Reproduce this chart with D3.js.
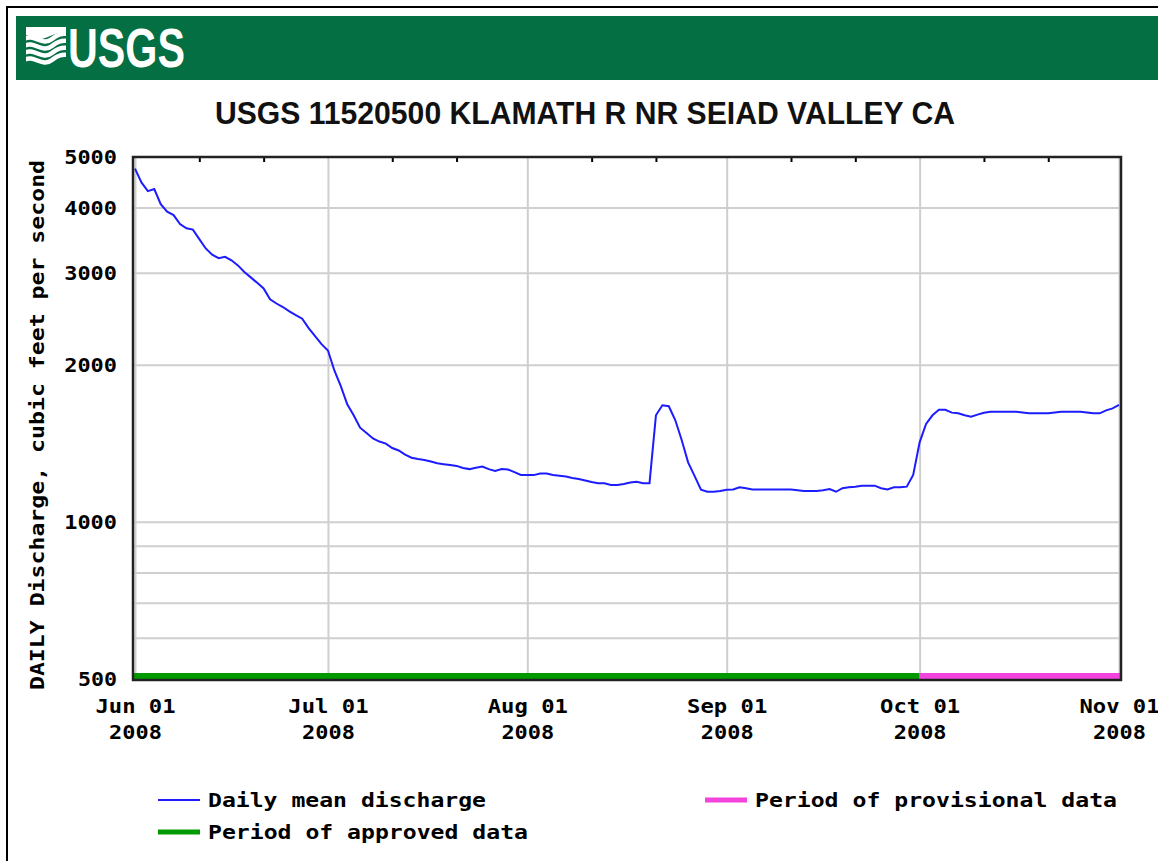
<!DOCTYPE html>
<html>
<head>
<meta charset="utf-8">
<script src="https://cdn.jsdelivr.net/npm/d3@7"></script>
<style>
  body { margin: 0; background: #fff; }
  svg { display: block; }
</style>
</head>
<body>
<svg id="chart" width="1158" height="861"></svg>
<script>
// daily mean discharge, cfs, one value per day starting Jun 01 2008
var startDate = new Date(2008, 5, 1);
var discharge = [
  4750, 4470, 4300, 4340, 4060, 3930, 3870, 3720, 3650, 3630,
  3480, 3340, 3250, 3200, 3220, 3170, 3100, 3010, 2940, 2870,
  2800, 2670, 2620, 2580, 2530, 2490, 2450, 2350, 2270, 2190,
  2130, 1950, 1820, 1680, 1600, 1515, 1480, 1445, 1425, 1412,
  1385, 1370, 1345, 1327, 1320, 1314, 1305, 1295, 1290, 1285,
  1280, 1268, 1262, 1270, 1276, 1262, 1252, 1262, 1260, 1245,
  1230, 1229, 1229, 1238, 1238, 1230, 1226, 1222, 1214, 1208,
  1200, 1192, 1186, 1186, 1177, 1177, 1182, 1190, 1194, 1186,
  1186, 1600, 1672, 1665, 1567, 1435, 1300, 1225, 1152, 1142,
  1142, 1146, 1152, 1154, 1165, 1160, 1154, 1154, 1154, 1154,
  1154, 1154, 1154, 1150, 1146, 1146, 1146, 1150, 1156, 1142,
  1160, 1165, 1168, 1173, 1173, 1173, 1160, 1154, 1165, 1165,
  1168, 1230, 1420, 1540, 1600, 1639, 1639, 1619, 1614, 1600,
  1590, 1605, 1618, 1626, 1626, 1626, 1626, 1626, 1620, 1614,
  1614, 1614, 1614, 1620, 1626, 1626, 1626, 1626, 1620, 1614,
  1614, 1635, 1650, 1675
];

var yLabelValues = [500, 1000, 2000, 3000, 4000, 5000];
var yGridValues = [600, 700, 800, 900, 1000, 2000, 3000, 4000];
var monthDates = ["2008-06-01", "2008-07-01", "2008-08-01", "2008-09-01", "2008-10-01", "2008-11-01"];

// approval periods: bounds between them
var periodNames = ["approved", "provisional"];
var periodBounds = ["2008-06-01", "2008-10-01", "2008-11-01"];

var title = "USGS 11520500 KLAMATH R NR SEIAD VALLEY CA";
var yTitle = "DAILY Discharge, cubic feet per second";
var legendLabels = ["Daily mean discharge", "Period of provisional data", "Period of approved data"];

var parse = d3.timeParse("%Y-%m-%d");
var periodColor = { approved: "#009900", provisional: "#f243dc" };
var lineColor = "#1c1cff";
var monoFont = "'DejaVu Sans Mono', 'Liberation Mono', monospace";
var narrowFont = "'Liberation Sans Narrow', 'Liberation Sans', Arial, sans-serif";
var charW = 13.7;

var svg = d3.select("svg#chart");

// outer frame
svg.append("rect")
  .attr("x", 7).attr("y", 7)
  .attr("width", 1170).attr("height", 880)
  .attr("fill", "none").attr("stroke", "#000").attr("stroke-width", 2);

// USGS banner
svg.append("rect")
  .attr("x", 16).attr("y", 16)
  .attr("width", 1142).attr("height", 64)
  .attr("fill", "#046f42");

var logo = svg.append("g").attr("transform", "translate(26,27)");
logo.append("clipPath").attr("id", "logoclip")
  .append("rect").attr("width", 40).attr("height", 40);
var waves = logo.append("g").attr("clip-path", "url(#logoclip)");
waves.append("path")
  .attr("d", "M0,0 L40,0 L40,6 C28,4 20,14 10,12 C5,11 2,8 0,8 Z")
  .attr("fill", "#fff");
[14, 21, 28, 35].forEach(function (o) {
  waves.append("path")
    .attr("d", "M-2," + (o - 2) + " C8," + (o - 8) + " 16," + (o + 6) + " 26," + (o - 2) + " C32," + (o - 7) + " 36," + (o - 8) + " 42," + (o - 7))
    .attr("fill", "none").attr("stroke", "#fff").attr("stroke-width", 4.5);
});
svg.append("text")
  .attr("x", 68).attr("y", 67)
  .attr("font-family", narrowFont).attr("font-weight", "bold")
  .attr("font-size", 55)
  .attr("textLength", 117).attr("lengthAdjust", "spacingAndGlyphs")
  .attr("fill", "#fff")
  .text("USGS");

// chart title
svg.append("text")
  .attr("x", 585).attr("y", 124)
  .attr("text-anchor", "middle")
  .attr("font-family", narrowFont).attr("font-weight", "bold")
  .attr("font-size", 31)
  .attr("textLength", 740).attr("lengthAdjust", "spacingAndGlyphs")
  .attr("fill", "#111")
  .text(title);

var plotL = 133, plotR = 1121, plotT = 157, plotB = 680;

var x = d3.scaleTime()
  .domain([parse(monthDates[0]), parse(monthDates[monthDates.length - 1])])
  .range([135, 1119]);

var y = d3.scaleLog()
  .domain([500, 5000])
  .range([679, 157]);

// gridlines
svg.append("g")
  .attr("transform", "translate(" + plotL + ",0)")
  .call(d3.axisLeft(y).tickValues(yGridValues).tickSize(-(plotR - plotL)).tickFormat(""))
  .call(function (g) {
    g.select(".domain").remove();
    g.selectAll("line").attr("stroke", "#cfcfcf").attr("stroke-width", 2);
  });

svg.append("g")
  .attr("transform", "translate(0," + plotB + ")")
  .call(d3.axisBottom(x).tickValues(monthDates.map(parse)).tickSize(-(plotB - plotT)).tickFormat(""))
  .call(function (g) {
    g.select(".domain").remove();
    g.selectAll("line").attr("stroke", "#cfcfcf").attr("stroke-width", 2);
  });

// minor ticks on the top edge (11th and 21st)
var minorDates = d3.timeDay.range(x.domain()[0], x.domain()[1])
  .filter(function (d) { return d.getDate() === 11 || d.getDate() === 21; });
svg.append("g")
  .attr("transform", "translate(0," + (plotT + 1) + ")")
  .call(d3.axisBottom(x).tickValues(minorDates).tickSize(4).tickFormat(""))
  .call(function (g) {
    g.select(".domain").remove();
    g.selectAll("line").attr("stroke", "#000").attr("stroke-width", 2);
  });

// approval periods along the bottom
var periods = periodNames.map(function (n, i) {
  return { name: n, from: parse(periodBounds[i]), to: parse(periodBounds[i + 1]) };
});
svg.append("g").selectAll("rect")
  .data(periods)
  .enter().append("rect")
    .attr("x", function (d, i) { return i === 0 ? plotL : x(d.from); })
    .attr("width", function (d, i) { return (i === periods.length - 1 ? plotR : x(d.to)) - (i === 0 ? plotL : x(d.from)); })
    .attr("y", plotB - 7)
    .attr("height", 6)
    .attr("fill", function (d) { return periodColor[d.name]; });

// discharge line
var line = d3.line()
  .x(function (d, i) { return x(d3.timeDay.offset(startDate, i)); })
  .y(function (d) { return y(d); });

svg.append("path")
  .datum(discharge)
  .attr("d", line)
  .attr("fill", "none")
  .attr("stroke", lineColor)
  .attr("stroke-width", 2);

// plot frame
svg.append("rect")
  .attr("x", plotL).attr("y", plotT)
  .attr("width", plotR - plotL).attr("height", plotB - plotT)
  .attr("fill", "none").attr("stroke", "#222").attr("stroke-width", 2.5);

// y labels
svg.append("g")
  .attr("transform", "translate(" + plotL + ",0)")
  .call(d3.axisLeft(y).tickValues(yLabelValues).tickSize(0).tickPadding(16).tickFormat(d3.format("d")))
  .call(function (g) {
    g.select(".domain").remove();
    g.selectAll("text")
      .attr("font-family", monoFont).attr("font-weight", "bold")
      .attr("font-size", 19).attr("fill", "#000")
      .attr("dy", "0.36em")
      .attr("textLength", function (d) { return String(d).length * charW - 2; })
      .attr("lengthAdjust", "spacingAndGlyphs");
  });

// x labels, two lines
var fmtDay = d3.timeFormat("%b %d"), fmtYear = d3.timeFormat("%Y");
var gx = svg.append("g")
  .attr("transform", "translate(0," + plotB + ")")
  .call(d3.axisBottom(x).tickValues(monthDates.map(parse)).tickSize(0).tickFormat(""));
gx.select(".domain").remove();
gx.selectAll(".tick").each(function (d) {
  var t = d3.select(this);
  [fmtDay(d), fmtYear(d)].forEach(function (s, k) {
    t.append("text")
      .attr("y", 33 + k * 26)
      .attr("text-anchor", "middle")
      .attr("font-family", monoFont).attr("font-weight", "bold")
      .attr("font-size", 19).attr("fill", "#000")
      .attr("textLength", s.length * charW - 2)
      .attr("lengthAdjust", "spacingAndGlyphs")
      .text(s);
  });
});

// y title
svg.append("text")
  .attr("transform", "translate(44,425) rotate(-90)")
  .attr("text-anchor", "middle")
  .attr("font-family", monoFont).attr("font-weight", "bold")
  .attr("font-size", 19).attr("fill", "#000")
  .attr("textLength", yTitle.length * 13.95)
  .attr("lengthAdjust", "spacingAndGlyphs")
  .text(yTitle);

// legend
var legendPos = [
  { x: 158, y: 800, color: lineColor, w: 2 },
  { x: 705, y: 800, color: periodColor.provisional, w: 5 },
  { x: 158, y: 832, color: periodColor.approved, w: 5 }
];
var leg = svg.append("g").selectAll("g")
  .data(legendLabels)
  .enter().append("g")
    .attr("transform", function (d, i) { return "translate(" + legendPos[i].x + "," + legendPos[i].y + ")"; });
leg.append("line")
  .attr("x1", 0).attr("x2", 42)
  .attr("stroke", function (d, i) { return legendPos[i].color; })
  .attr("stroke-width", function (d, i) { return legendPos[i].w; });
leg.append("text")
  .attr("x", 50).attr("dy", "0.36em")
  .attr("font-family", monoFont).attr("font-weight", "bold")
  .attr("font-size", 19).attr("fill", "#000")
  .attr("textLength", function (d) { return d.length * 14 - 2; })
  .attr("lengthAdjust", "spacingAndGlyphs")
  .text(function (d) { return d; });
</script>
</body>
</html>
